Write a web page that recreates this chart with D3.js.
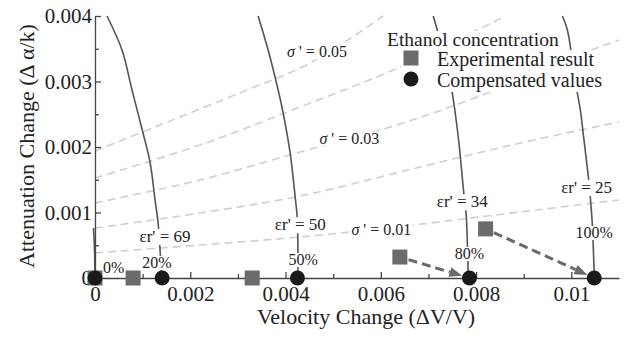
<!DOCTYPE html>
<html>
<head>
<meta charset="utf-8">
<script src="https://cdn.jsdelivr.net/npm/d3@7"></script>
<style>
  body { margin: 0; background: #fff; }
</style>
</head>
<body>
<div id="chart"></div>
<script>
const width = 624, height = 338;
const serif = '"Liberation Serif", "Times New Roman", Times, serif';

// axis ticks
const xTicks = [0, 0.002, 0.004, 0.006, 0.008, 0.01];
const xTickLabels = ['0', '0.002', '0.004', '0.006', '0.008', '0.01'];
const xMinor = [0.001, 0.003, 0.005, 0.007, 0.009];
const yTicks = [0, 0.001, 0.002, 0.003, 0.004];
const yTickLabels = ['0', '0.001', '0.002', '0.003', '0.004'];
const yMinor = [0.0005, 0.0015, 0.0025, 0.0035];

// ethanol concentration points
const concentrations = ['0%', '20%', '50%', '80%', '100%'];
const experimentalV = [0, 0.0008, 0.0033, 0.0064, 0.0082];
const experimentalA = [0, 0, 0, 0.00032, 0.00075];
const compensatedV = [0, 0.00141, 0.00425, 0.00786, 0.01048];
const compensatedA = [0, 0, 0, 0, 0];

// constant relative permittivity curves [dV/V, da/k]
const epsValues = [80, 69, 50, 34, 25];
const eps80 = [[0, 0], [-0.0000105, 0.000427], [-0.0000315, 0.000763]];
const eps69 = [[0.000252, 0.004], [0.000567, 0.003481], [0.000777, 0.00287], [0.001008, 0.002214],
  [0.001155, 0.001771], [0.001261, 0.001191], [0.001324, 0.00084], [0.001366, 0.000427], [0.0014, 0]];
const eps50 = [[0.003424, 0.004], [0.003634, 0.003481], [0.003845, 0.00287], [0.00395, 0.002519],
  [0.004097, 0.001908], [0.004202, 0.001237], [0.004244, 0.000931], [0.004258, 0.00058], [0.00426, 0]];
const eps34 = [[0.007101, 0.004], [0.007185, 0.003786], [0.007353, 0.003328], [0.0075, 0.002824],
  [0.007584, 0.002397], [0.007647, 0.002015], [0.007731, 0.001374], [0.007794, 0.000947],
  [0.007815, 0.000565], [0.007836, 0]];
const eps25 = [[0.009811, 0.004], [0.009916, 0.003786], [0.010021, 0.003328], [0.010126, 0.002824],
  [0.010189, 0.002565], [0.010252, 0.002183], [0.010315, 0.001802], [0.010357, 0.001542],
  [0.010399, 0.001221], [0.010441, 0.000809], [0.010462, 0.000427], [0.010483, 0]];

// constant conductivity curves
const sigmaValues = [0.05, 0.04, 0.03, 0.02, 0.01];
const sigma05 = [[0, 0.001939], [0.001576, 0.002397], [0.003193, 0.00287], [0.004307, 0.003206],
  [0.005147, 0.003557], [0.00605, 0.004]];
const sigma04 = [[0, 0.001527], [0.002206, 0.002031], [0.004307, 0.002611], [0.006408, 0.003221],
  [0.008025, 0.003786], [0.008613, 0.004]];
const sigma03 = [[0, 0.001145], [0.002206, 0.001496], [0.004307, 0.001924], [0.006134, 0.00229],
  [0.008025, 0.002763], [0.010252, 0.003435], [0.011, 0.003634]];
const sigma02 = [[0, 0.000763], [0.002206, 0.000992], [0.004307, 0.001252], [0.006828, 0.001695],
  [0.008929, 0.002061], [0.011, 0.002382]];
const sigma01 = [[0, 0.000382], [0.002206, 0.000504], [0.004307, 0.000626], [0.006681, 0.000809],
  [0.008929, 0.001008], [0.011, 0.001191]];

const svg = d3.select('#chart')
  .append('svg')
    .attr('width', width)
    .attr('height', height)
    .attr('font-family', serif)
    .style('display', 'block');

const x = d3.scaleLinear().domain([0, 0.011]).range([95, 619]);
const y = d3.scaleLinear().domain([0, 0.004]).range([278, 16]);

const line = d3.line()
  .x(d => x(d[0]))
  .y(d => y(d[1]))
  .curve(d3.curveCatmullRom);

// dashed sigma' curves
svg.append('g')
  .selectAll('path')
  .data([sigma05, sigma04, sigma03, sigma02, sigma01])
  .join('path')
    .attr('d', line)
    .attr('fill', 'none')
    .attr('stroke', '#cfcfcf')
    .attr('stroke-width', 1.6)
    .attr('stroke-dasharray', '8,5');

// solid eps' curves
svg.append('g')
  .selectAll('path')
  .data([eps80, eps69, eps50, eps34, eps25])
  .join('path')
    .attr('d', line)
    .attr('fill', 'none')
    .attr('stroke', '#555')
    .attr('stroke-width', 1.6);

// text labels with white background
const addLabel = (g, px, py, size, anchor, build) => {
  const t = g.append('text')
    .attr('x', px)
    .attr('y', py)
    .attr('text-anchor', anchor)
    .attr('fill', '#222')
    .attr('font-family', serif)
    .attr('font-size', size);
  build(t);
  const b = t.node().getBBox();
  g.insert('rect', () => t.node())
    .attr('x', b.x - 1)
    .attr('y', b.y + 2)
    .attr('width', b.width + 2)
    .attr('height', b.height - 3)
    .attr('fill', '#fff');
};

const labels = svg.append('g');
// eps' labels: anchored in data units
const epsLabelPos = [[0.00147, 0.00055], [0.00431, 0.00073], [0.00771, 0.00108], [0.01032, 0.0013]];
epsValues.slice(1).forEach((v, i) => {
  addLabel(labels, x(epsLabelPos[i][0]), y(epsLabelPos[i][1]), 17, 'middle',
    t => t.text(`\u03b5r' = ${v}`));
});
const sigmaLabelPos = [[0.00466, 0.00337], [0.00534, 0.00205], [0.00601, 0.00066]];
[0.05, 0.03, 0.01].forEach((v, i) => {
  addLabel(labels, x(sigmaLabelPos[i][0]), y(sigmaLabelPos[i][1]), 16, 'middle', t => {
    t.append('tspan').attr('font-style', 'italic').text('\u03c3');
    t.append('tspan').text(` ' = ${v}`);
  });
});
const pctLabelPos = [[0.00017, 0.000076], [0.0013, 0.000153], [0.00437, 0.000198], [0.00786, 0.00029], [0.01048, 0.00061]];
concentrations.forEach((c, i) => {
  addLabel(labels, x(pctLabelPos[i][0]), y(pctLabelPos[i][1]), 16, i === 0 ? 'start' : 'middle',
    t => t.text(c));
});

// axes
const xAxis = svg.append('g')
  .attr('transform', `translate(0,${y(0)})`)
  .call(d3.axisBottom(x).tickValues(xTicks).tickSize(-6).tickSizeOuter(0).tickPadding(8)
    .tickFormat((d, i) => xTickLabels[i]));
xAxis.append('g')
  .call(d3.axisBottom(x).tickValues(xMinor).tickSize(-4).tickFormat(''))
  .select('.domain').remove();

const yAxis = svg.append('g')
  .attr('transform', `translate(${x(0)},0)`)
  .call(d3.axisLeft(y).tickValues(yTicks).tickSize(-6).tickSizeOuter(0).tickPadding(3)
    .tickFormat((d, i) => yTickLabels[i]));
yAxis.append('g')
  .call(d3.axisLeft(y).tickValues(yMinor).tickSize(-4).tickFormat(''))
  .select('.domain').remove();

[xAxis, yAxis].forEach(a => a.attr('font-family', serif).attr('font-size', 21));
svg.selectAll('.domain, .tick line')
  .attr('stroke', '#444')
  .attr('stroke-width', 1.3);
svg.selectAll('.tick text')
  .attr('fill', '#222')
  .attr('font-family', serif)
  .attr('font-size', 21);

svg.append('text')
  .attr('x', 366)
  .attr('y', 324)
  .attr('text-anchor', 'middle')
  .attr('fill', '#222')
  .attr('font-size', 22)
  .text('Velocity Change (\u0394V/V)');

svg.append('text')
  .attr('transform', 'translate(34,146) rotate(-90)')
  .attr('text-anchor', 'middle')
  .attr('fill', '#222')
  .attr('font-size', 22)
  .text('Attenuation Change (\u0394 \u03b1/k)');

// arrows from experimental to compensated
const defs = svg.append('defs');
defs.append('marker')
  .attr('id', 'head')
  .attr('viewBox', '0 0 13 10')
  .attr('refX', 0)
  .attr('refY', 5)
  .attr('markerWidth', 13)
  .attr('markerHeight', 10)
  .attr('markerUnits', 'userSpaceOnUse')
  .attr('orient', 'auto')
  .append('path')
    .attr('d', 'M0,0 L13,5 L0,10 Z')
    .attr('fill', '#6a6a6a');

[3, 4].forEach(i => {
  const x1 = x(experimentalV[i]), y1 = y(experimentalA[i]);
  const x2 = x(compensatedV[i]), y2 = y(compensatedA[i]);
  const len = Math.hypot(x2 - x1, y2 - y1);
  const ux = (x2 - x1) / len, uy = (y2 - y1) / len;
  svg.append('line')
    .attr('x1', x1 + ux * 9)
    .attr('y1', y1 + uy * 9)
    .attr('x2', x2 - ux * (7.5 + 13))
    .attr('y2', y2 - uy * (7.5 + 13))
    .attr('stroke', '#6a6a6a')
    .attr('stroke-width', 3)
    .attr('stroke-dasharray', '9,5')
    .attr('marker-end', 'url(#head)');
});

// markers
svg.append('g')
  .selectAll('rect')
  .data(experimentalV)
  .join('rect')
    .attr('x', (d, i) => x(d) - 7.5)
    .attr('y', (d, i) => y(experimentalA[i]) - 7.5)
    .attr('width', 15)
    .attr('height', 15)
    .attr('fill', '#6b6b6b');

svg.append('g')
  .selectAll('circle')
  .data(compensatedV)
  .join('circle')
    .attr('cx', d => x(d))
    .attr('cy', (d, i) => y(compensatedA[i]))
    .attr('r', 7.5)
    .attr('fill', '#1a1a1a');

// legend
const legend = svg.append('g');
const legendRows = [
  { text: 'Ethanol concentration', tx: 387, ty: 46, size: 19.5, mark: null },
  { text: 'Experimental result', tx: 437, ty: 66, size: 20, mark: 'square' },
  { text: 'Compensated values', tx: 437, ty: 87, size: 20, mark: 'circle' }
];
legendRows.forEach(r => {
  const g = legend.append('g');
  const bg = g.append('rect').attr('fill', '#fff');
  const t = g.append('text')
    .attr('x', r.tx)
    .attr('y', r.ty)
    .attr('fill', '#222')
    .attr('font-size', r.size)
    .text(r.text);
  const b = t.node().getBBox();
  const left = r.mark ? 401 : b.x - 1;
  bg.attr('x', left)
    .attr('y', b.y + 2)
    .attr('width', b.x + b.width + 1 - left)
    .attr('height', b.height - 2);
  if (r.mark === 'square') {
    g.append('rect')
      .attr('x', 411 - 7.5).attr('y', r.ty - 8 - 7.5)
      .attr('width', 15).attr('height', 15)
      .attr('fill', '#6b6b6b');
  } else if (r.mark === 'circle') {
    g.append('circle')
      .attr('cx', 411).attr('cy', r.ty - 8)
      .attr('r', 7.5)
      .attr('fill', '#1a1a1a');
  }
});
</script>
</body>
</html>
